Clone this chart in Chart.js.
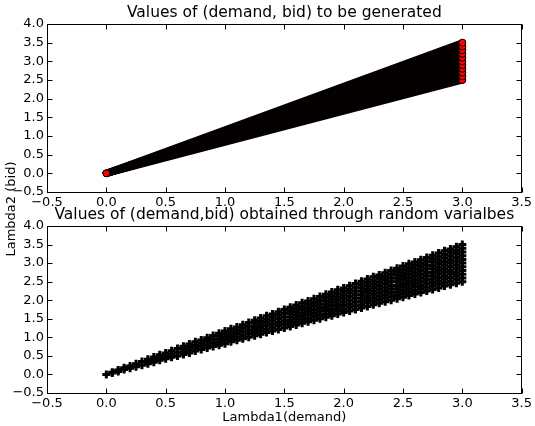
<!DOCTYPE html>
<html>
<head>
<meta charset="utf-8">
<script src="https://cdn.jsdelivr.net/npm/chart.js@4.4.1/dist/chart.umd.min.js"></script>
<style>
  html, body { margin: 0; padding: 0; background: #fff; }
  #wrap { position: relative; width: 535px; height: 426px; }
  #wrap canvas { position: absolute; left: 0; top: 0; }
</style>
</head>
<body>
<div id="wrap">
  <canvas id="generated" width="535" height="426"></canvas>
  <canvas id="obtained" width="535" height="426"></canvas>
</div>
<script>
// planned (demand, bid) pairs: every line runs from the origin out to demand 3.0
const lineDemand = [0.0, 3.0];
const lineBidStart = 0.0;
const lineBidEnds = [2.5, 2.6, 2.7, 2.8, 2.9, 3.0, 3.1, 3.2, 3.3, 3.4, 3.5];

// drawn (demand, bid) pairs, bids grouped by their demand value
const drawDemand = [
    0.00, 0.05, 0.10, 0.15, 0.20, 0.25, 0.30, 0.35, 0.40, 0.45,
    0.50, 0.55, 0.60, 0.65, 0.70, 0.75, 0.80, 0.85, 0.90, 0.95,
    1.00, 1.05, 1.10, 1.15, 1.20, 1.25, 1.30, 1.35, 1.40, 1.45,
    1.50, 1.55, 1.60, 1.65, 1.70, 1.75, 1.80, 1.85, 1.90, 1.95,
    2.00, 2.05, 2.10, 2.15, 2.20, 2.25, 2.30, 2.35, 2.40, 2.45,
    2.50, 2.55, 2.60, 2.65, 2.70, 2.75, 2.80, 2.85, 2.90, 2.95,
    3.00
];
const drawBids = [
    [0.00],
    [0.04, 0.06],
    [0.08, 0.12],
    [0.13, 0.18],
    [0.17, 0.23],
    [0.21, 0.29],
    [0.25, 0.35],
    [0.29, 0.35, 0.41],
    [0.33, 0.40, 0.47],
    [0.38, 0.45, 0.53],
    [0.42, 0.50, 0.58],
    [0.46, 0.55, 0.64],
    [0.50, 0.60, 0.70],
    [0.54, 0.61, 0.69, 0.76],
    [0.58, 0.66, 0.74, 0.82],
    [0.63, 0.71, 0.79, 0.88],
    [0.67, 0.76, 0.84, 0.93],
    [0.71, 0.80, 0.90, 0.99],
    [0.75, 0.85, 0.95, 1.05],
    [0.79, 0.87, 0.95, 1.03, 1.11],
    [0.83, 0.92, 1.00, 1.08, 1.17],
    [0.88, 0.96, 1.05, 1.14, 1.23],
    [0.92, 1.01, 1.10, 1.19, 1.28],
    [0.96, 1.05, 1.15, 1.25, 1.34],
    [1.00, 1.10, 1.20, 1.30, 1.40],
    [1.04, 1.13, 1.21, 1.29, 1.38, 1.46],
    [1.08, 1.17, 1.26, 1.34, 1.43, 1.52],
    [1.13, 1.22, 1.31, 1.40, 1.49, 1.58],
    [1.17, 1.26, 1.35, 1.45, 1.54, 1.63],
    [1.21, 1.31, 1.40, 1.50, 1.60, 1.69],
    [1.25, 1.35, 1.45, 1.55, 1.65, 1.75],
    [1.29, 1.38, 1.46, 1.55, 1.64, 1.72, 1.81],
    [1.33, 1.42, 1.51, 1.60, 1.69, 1.78, 1.87],
    [1.38, 1.47, 1.56, 1.65, 1.74, 1.83, 1.93],
    [1.42, 1.51, 1.61, 1.70, 1.79, 1.89, 1.98],
    [1.46, 1.56, 1.65, 1.75, 1.85, 1.94, 2.04],
    [1.50, 1.60, 1.70, 1.80, 1.90, 2.00, 2.10],
    [1.54, 1.63, 1.72, 1.81, 1.89, 1.98, 2.07, 2.16],
    [1.58, 1.67, 1.76, 1.86, 1.95, 2.04, 2.13, 2.22],
    [1.63, 1.72, 1.81, 1.90, 2.00, 2.09, 2.18, 2.28],
    [1.67, 1.76, 1.86, 1.95, 2.05, 2.14, 2.24, 2.33],
    [1.71, 1.81, 1.90, 2.00, 2.10, 2.20, 2.29, 2.39],
    [1.75, 1.85, 1.95, 2.05, 2.15, 2.25, 2.35, 2.45],
    [1.79, 1.88, 1.97, 2.06, 2.15, 2.24, 2.33, 2.42, 2.51],
    [1.83, 1.93, 2.02, 2.11, 2.20, 2.29, 2.38, 2.48, 2.57],
    [1.88, 1.97, 2.06, 2.16, 2.25, 2.34, 2.44, 2.53, 2.63],
    [1.92, 2.01, 2.11, 2.20, 2.30, 2.40, 2.49, 2.59, 2.68],
    [1.96, 2.06, 2.15, 2.25, 2.35, 2.45, 2.55, 2.64, 2.74],
    [2.00, 2.10, 2.20, 2.30, 2.40, 2.50, 2.60, 2.70, 2.80],
    [2.04, 2.13, 2.22, 2.31, 2.40, 2.50, 2.59, 2.68, 2.77, 2.86],
    [2.08, 2.18, 2.27, 2.36, 2.45, 2.55, 2.64, 2.73, 2.82, 2.92],
    [2.13, 2.22, 2.31, 2.41, 2.50, 2.60, 2.69, 2.79, 2.88, 2.98],
    [2.17, 2.26, 2.36, 2.46, 2.55, 2.65, 2.74, 2.84, 2.94, 3.03],
    [2.21, 2.31, 2.40, 2.50, 2.60, 2.70, 2.80, 2.90, 2.99, 3.09],
    [2.25, 2.35, 2.45, 2.55, 2.65, 2.75, 2.85, 2.95, 3.05, 3.15],
    [2.29, 2.38, 2.48, 2.57, 2.66, 2.75, 2.84, 2.93, 3.03, 3.12, 3.21],
    [2.33, 2.43, 2.52, 2.61, 2.71, 2.80, 2.89, 2.99, 3.08, 3.17, 3.27],
    [2.38, 2.47, 2.57, 2.66, 2.76, 2.85, 2.95, 3.04, 3.14, 3.23, 3.33],
    [2.42, 2.51, 2.61, 2.71, 2.80, 2.90, 3.00, 3.09, 3.19, 3.29, 3.38],
    [2.46, 2.56, 2.66, 2.75, 2.85, 2.95, 3.05, 3.15, 3.25, 3.34, 3.44],
    [2.50, 2.60, 2.70, 2.80, 2.90, 3.00, 3.10, 3.20, 3.30, 3.40, 3.50]
];

const xTicks = [-0.5, 0.0, 0.5, 1.0, 1.5, 2.0, 2.5, 3.0, 3.5];
const yTicks = [-0.5, 0.0, 0.5, 1.0, 1.5, 2.0, 2.5, 3.0, 3.5, 4.0];

Chart.defaults.font.family = "'DejaVu Sans', sans-serif";
Chart.defaults.font.size = 13;
Chart.defaults.color = '#000';

const fmt = (v) => Number(v).toFixed(1).replace('-', '\u2212');

/* box around the axes, inward ticks on all four sides, titles */
const axesFrame = {
    id: 'axesFrame',
    afterDraw(chart, args, opts) {
        const ctx = chart.ctx;
        const a = chart.chartArea;
        const xs = chart.scales.x;
        const ys = chart.scales.y;
        const l = Math.floor(a.left) + 0.5;
        const r = Math.floor(a.right) + 0.5;
        const t = Math.floor(a.top) + 0.5;
        const b = Math.floor(a.bottom) + 0.5;
        ctx.save();
        ctx.strokeStyle = '#000';
        ctx.lineWidth = 1;
        ctx.strokeRect(l, t, r - l, b - t);
        ctx.beginPath();
        xTicks.forEach((v) => {
            const px = Math.round(xs.getPixelForValue(v)) + 0.5;
            ctx.moveTo(px, b); ctx.lineTo(px, b - 5);
            ctx.moveTo(px, t); ctx.lineTo(px, t + 5);
        });
        yTicks.forEach((v) => {
            const py = Math.round(ys.getPixelForValue(v)) + 0.5;
            ctx.moveTo(l, py); ctx.lineTo(l + 5, py);
            ctx.moveTo(r, py); ctx.lineTo(r - 5, py);
        });
        ctx.stroke();

        ctx.fillStyle = '#000';
        ctx.textAlign = 'center';
        ctx.textBaseline = 'middle';
        ctx.font = "15.5px 'DejaVu Sans'";
        ctx.fillText(opts.title, (a.left + a.right) / 2, a.top - 11);
        if (opts.xLabel) {
            ctx.font = "13px 'DejaVu Sans'";
            ctx.fillText(opts.xLabel, (a.left + a.right) / 2, 418);
        }
        if (opts.yLabel) {
            ctx.font = "13px 'DejaVu Sans'";
            ctx.translate(12, 209);
            ctx.rotate(-Math.PI / 2);
            ctx.fillText(opts.yLabel, 0, 0);
        }
        ctx.restore();
    }
};

function axesOptions(top, xHeight, frame) {
    return {
        responsive: false,
        animation: false,
        events: [],
        layout: { padding: { top: top, right: 11, left: 0, bottom: 0 } },
        plugins: {
            legend: { display: false },
            tooltip: { enabled: false },
            axesFrame: frame
        },
        scales: {
            x: {
                type: 'linear',
                min: -0.5,
                max: 3.5,
                grid: { display: false, drawTicks: false },
                border: { display: false },
                afterBuildTicks: (s) => { s.ticks = xTicks.map((v) => ({ value: v })); },
                afterFit: (s) => { s.height = xHeight; },
                ticks: { padding: 3, autoSkip: false, maxRotation: 0, callback: fmt }
            },
            y: {
                type: 'linear',
                min: -0.5,
                max: 4.0,
                grid: { display: false, drawTicks: false },
                border: { display: false },
                afterBuildTicks: (s) => { s.ticks = yTicks.map((v) => ({ value: v })); },
                afterFit: (s) => { s.width = 47; },
                ticks: { padding: 3, autoSkip: false, callback: fmt }
            }
        }
    };
}

// top: the lines to be generated, with their end markers drawn last
const lineSets = lineBidEnds.map((end) => ({
    showLine: true,
    data: [{ x: lineDemand[0], y: lineBidStart }, { x: lineDemand[1], y: end }],
    borderColor: '#050000',
    borderWidth: 7,
    borderCapStyle: 'round',
    pointRadius: 0,
    order: 1
}));
const markerSet = {
    data: [{ x: lineDemand[0], y: lineBidStart }].concat(
        lineBidEnds.map((end) => ({ x: lineDemand[1], y: end }))),
    pointRadius: 3.5,
    pointBackgroundColor: '#ff0000',
    pointBorderColor: '#000',
    pointBorderWidth: 1,
    order: 0
};

new Chart(document.getElementById('generated'), {
    type: 'scatter',
    data: { datasets: lineSets.concat([markerSet]) },
    options: axesOptions(24, 234, { title: 'Values of (demand, bid) to be generated' }),
    plugins: [axesFrame]
});

// bottom: the drawn pairs as plus markers
const drawPoints = [];
drawDemand.forEach((d, i) => {
    drawBids[i].forEach((b) => drawPoints.push({ x: d, y: b }));
});

new Chart(document.getElementById('obtained'), {
    type: 'scatter',
    data: {
        datasets: [{
            data: drawPoints,
            pointStyle: 'cross',
            pointRadius: 4,
            pointBorderWidth: 3,
            pointBorderColor: '#000',
            pointBackgroundColor: '#000'
        }]
    },
    options: axesOptions(226, 33, {
        title: 'Values of (demand,bid) obtained through random varialbes',
        xLabel: 'Lambda1(demand)',
        yLabel: 'Lambda2 (bid)'
    }),
    plugins: [axesFrame]
});
</script>
</body>
</html>
